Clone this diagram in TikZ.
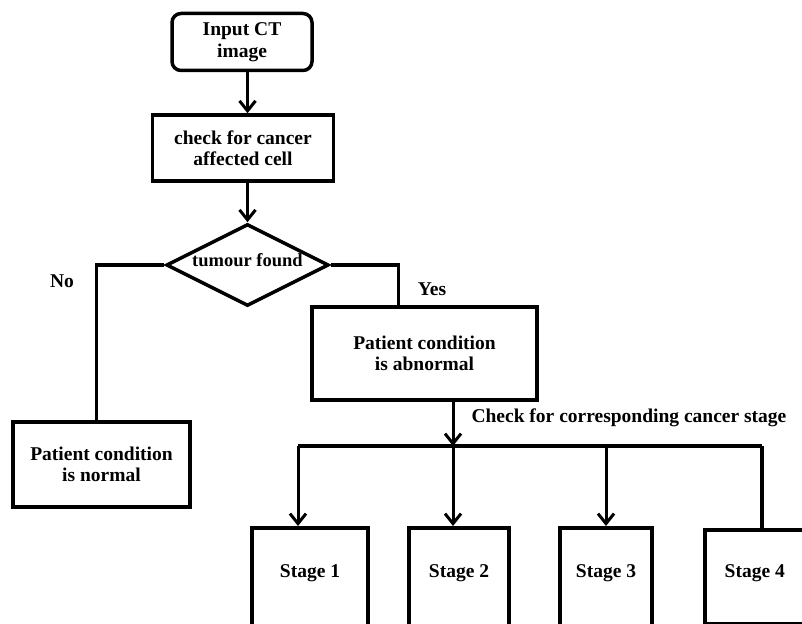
\documentclass[tikz,border=0pt]{standalone}
\usepackage{fontspec}
\setmainfont{Liberation Serif}
\usetikzlibrary{shapes.geometric,arrows.meta}

\tikzset{
  box/.style={draw, line width=3.5pt, align=center},
  stagebox/.style={box, anchor=north, inner sep=0pt, text height=50pt, text depth=120pt},
  arr/.style={line width=3pt, -{Straight Barb[length=10pt,width=16pt]}},
  wire/.style={line width=3.2pt},
}

\begin{document}
\begin{tikzpicture}[x=1pt,y=-1pt,font=\fontsize{19.5}{21.5}\selectfont\bfseries]
\clip (0,0) rectangle (802,623);

% draw start, check and decision

\node[box, rounded corners=9pt, minimum width=140, minimum height=57] (input) at (242,42) {Input CT\\image};
\node[box, minimum width=181, minimum height=66] (check) at (243,148) {check for cancer\\affected cell};
\node[box, shape=diamond, aspect=2, minimum width=161, minimum height=82, inner sep=0pt, text height=14pt, text depth=12pt, font=\fontsize{18.5}{21}\selectfont\bfseries] (tumour) at (247.5,265) {tumour found};

\draw[arr] (input.south -| tumour.north) -- (check.north -| tumour.north);
\draw[arr] (check.south -| tumour.north) -- (tumour.north);

% draw both outcomes

\node[box, minimum width=177, minimum height=85] (normal) at (101.5,464.5) {Patient condition\\is normal};
\node[box, minimum width=225, minimum height=93] (abnormal) at (424.5,353.5) {Patient condition\\is abnormal};

\node (no) at (62,281) {No};
\node (yes) at (432,289) {Yes};

\draw[wire] (tumour.west) -| ([xshift=-5pt]normal.north);
\draw[wire] (tumour.east) -| ([xshift=-26pt]abnormal.north);

% draw stages

\node[stagebox, minimum width=116] (s1) at (310,526) {Stage 1};
\node[stagebox, minimum width=100] (s2) at (459,526) {Stage 2};
\node[stagebox, minimum width=92] (s3) at (606,526) {Stage 3};
\node[box, anchor=north west, minimum width=100, minimum height=94, inner sep=0pt, text height=48pt, text depth=46pt] (s4) at (703,528) {Stage 4};

\coordinate (busL) at (298,446);
\coordinate (bus) at (453,446);
\coordinate (bus3) at (606,446);
\coordinate (busR) at (762,446);

\node[anchor=west] (stagecheck) at (468,418) {Check for corresponding cancer stage};

\draw[arr] ([xshift=28.5pt]abnormal.south) -- (bus);
\draw[wire] (busL) -- (busR);
\draw[arr] (busL) -- (busL |- s1.north);
\draw[arr] (bus) -- (bus |- s2.north);
\draw[arr] (bus3) -- (bus3 |- s3.north);
\draw[wire] (busR) -- (busR |- s4.north);

\end{tikzpicture}
\end{document}
